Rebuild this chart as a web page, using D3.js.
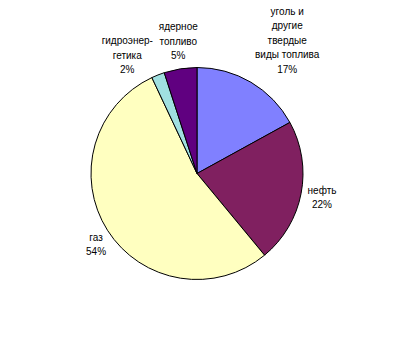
<!DOCTYPE html>
<html>
<head>
<meta charset="utf-8">
<script src="https://cdn.jsdelivr.net/npm/d3@7"></script>
<style>
  body { margin: 0; background: #fff; }
  svg { display: block; }
  text { font-family: Arial, "Liberation Sans", sans-serif; font-size: 10px; fill: #000; }
</style>
</head>
<body>
<svg width="396" height="348"></svg>
<script>
// categories (broken into lines as in the picture), values in %
var categories = [
  ["уголь и", "другие", "твердые", "виды топлива"],
  ["нефть"],
  ["газ"],
  ["гидроэнер-", "гетика"],
  ["ядерное", "топливо"]
];
var values = [17, 22, 54, 2, 5];
var colors = ["#8080FF", "#802060", "#FFFFC0", "#A0E0E0", "#600080"];

// small shifts Excel made to avoid overlaps
var labelNudge = [[16, -4], [0, 0], [2, 2], [-18, 8], [2, 2]];

var svg = d3.select("svg"),
    cx = 197, cy = 173.5, r = 106,
    lineH = 14.5;

var g = svg.append("g").attr("transform", "translate(" + cx + "," + cy + ")");

var pie = d3.pie().sort(null).value(function(d) { return d; });
var arcs = pie(values);

var arc = d3.arc().innerRadius(0).outerRadius(r);

g.selectAll("path")
  .data(arcs)
  .enter().append("path")
  .attr("d", arc)
  .attr("fill", function(d, i) { return colors[i]; })
  .attr("stroke", "#000")
  .attr("stroke-width", 1)
  .attr("stroke-linejoin", "round");

var labels = g.selectAll("g.lbl")
  .data(arcs)
  .enter().append("g")
  .attr("class", "lbl");

labels.each(function(d, i) {
  var lines = categories[i].concat([values[i] + "%"]);
  var a = (d.startAngle + d.endAngle) / 2;
  var s = Math.sin(a), c = Math.cos(a);
  var ax = s * (r + 8), ay = -c * (r + 8);
  var w = d3.max(lines, function(t) { return t.length; }) * 5.3;
  var h = lines.length * lineH;
  var bx = ax + s * w / 2 + labelNudge[i][0];
  var by = ay - c * h / 2 + labelNudge[i][1];
  var t = d3.select(this).append("text")
    .attr("text-anchor", "middle");
  lines.forEach(function(line, k) {
    t.append("tspan")
      .attr("x", bx)
      .attr("y", by - h / 2 + lineH * k + lineH / 2)
      .attr("dy", "0.35em")
      .text(line);
  });
});
</script>
</body>
</html>
